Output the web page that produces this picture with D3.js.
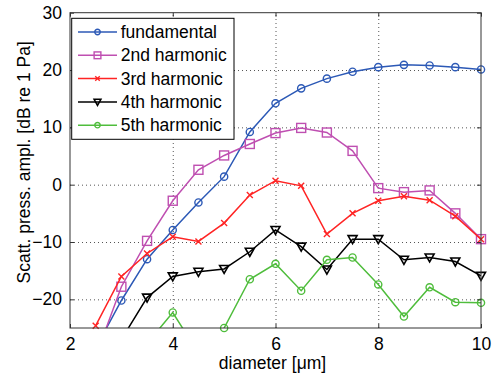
<!DOCTYPE html>
<html>
<head>
<meta charset="utf-8">
<script src="https://cdn.jsdelivr.net/npm/d3@7"></script>
<style>
  body { margin: 0; background: #fff; }
  svg { display: block; font-family: "Liberation Sans", Arial, sans-serif; }
  .grid line { stroke: #555; stroke-dasharray: 1 3; }
  .grid path { display: none; }
</style>
</head>
<body>
<svg id="chart" width="493" height="375"></svg>
<script>
// diameter [um]
const diameters = [2.5, 3, 3.5, 4, 4.5, 5, 5.5, 6, 6.5, 7, 7.5, 8, 8.5, 9, 9.5, 10];

const fundamental = [-28.5, -20.2, -13.0, -7.9, -3.1, 1.4, 9.2, 14.2, 16.8, 18.5, 19.7, 20.5, 20.9, 20.8, 20.5, 20.1];
const harmonic2 = [-30, -17.8, -9.8, -2.8, 2.6, 5.1, 7.1, 9.0, 9.9, 9.1, 5.9, -0.6, -1.3, -1.0, -5.0, -9.5];
const harmonic3 = [-24.6, -16.0, -12.0, -9.1, -9.9, -6.7, -1.8, 0.7, -0.2, -8.6, -5.0, -2.8, -2.0, -2.7, -5.5, -9.5];
const harmonic4 = [null, -27, -19.7, -16.0, -15.2, -14.7, -11.7, -7.9, -10.8, -14.8, -9.5, -9.5, -13.1, -12.7, -13.4, -15.9];
const harmonic5 = [null, null, -27.7, -22.3, -29.4, -25.0, -16.5, -13.8, -18.5, -13.1, -12.7, -17.4, -23.0, -17.9, -20.5, -20.6];

const xTicks = [2, 4, 6, 8, 10];
const yTicks = [-20, -10, 0, 10, 20, 30];

const series = [
  { name: "fundamental", values: fundamental, color: "#2c59b6", marker: "circle" },
  { name: "2nd harmonic", values: harmonic2, color: "#bf4fb1", marker: "square" },
  { name: "3rd harmonic", values: harmonic3, color: "#ff2424", marker: "cross" },
  { name: "4th harmonic", values: harmonic4, color: "#000000", marker: "triangle" },
  { name: "5th harmonic", values: harmonic5, color: "#4fbd3c", marker: "circle" }
];

const svg = d3.select("#chart");
const L = 70, R = 481, T = 12.7, B = 328;
const FS = "17.5px";

const x = d3.scaleLinear().domain([2, 10]).range([L, R]);
const y = d3.scaleLinear().domain([-25, 30]).range([B, T]);

// grid (dotted)
svg.append("g").attr("class", "grid")
  .attr("transform", `translate(0,${B})`)
  .call(d3.axisBottom(x).tickValues(xTicks.slice(1, -1)).tickSize(-(B - T)).tickFormat(""));
svg.append("g").attr("class", "grid")
  .attr("transform", `translate(${L},0)`)
  .call(d3.axisLeft(y).tickValues(yTicks.slice(0, -1)).tickSize(-(R - L)).tickFormat(""));

svg.append("defs").append("clipPath").attr("id", "clip")
  .append("rect").attr("x", L).attr("y", T).attr("width", R - L).attr("height", B - T);

// marker drawing (k = scale, legend uses smaller ones)
function drawMarker(g, type, color, k) {
  k = k || 1;
  if (type === "circle") {
    g.append("circle").attr("r", 3.6 * k).attr("fill", "none").attr("stroke", color).attr("stroke-width", 1.4);
  } else if (type === "square") {
    g.append("rect").attr("x", -4.5 * k).attr("y", -4.5 * k).attr("width", 9 * k).attr("height", 9 * k)
      .attr("fill", "none").attr("stroke", color).attr("stroke-width", 1.4);
  } else if (type === "cross") {
    const c = 3 * k;
    g.append("path").attr("d", `M${-c},${-c}L${c},${c}M${-c},${c}L${c},${-c}`).attr("stroke", color).attr("stroke-width", 1.4);
  } else if (type === "triangle") {
    g.append("path").attr("d", `M${-4.5 * k},${-3.5 * k}L${4.5 * k},${-3.5 * k}L0,${4.5 * k}Z`)
      .attr("fill", "none").attr("stroke", color).attr("stroke-width", 1.6);
  }
}

const line = d3.line()
  .defined(d => d.v !== null)
  .x(d => x(d.d))
  .y(d => y(d.v));

series.forEach(s => {
  const pts = diameters.map((d, i) => ({ d: d, v: s.values[i] }));
  svg.append("path")
    .attr("clip-path", "url(#clip)")
    .attr("d", line(pts))
    .attr("fill", "none")
    .attr("stroke", s.color)
    .attr("stroke-width", 1.5);
  pts.filter(p => p.v !== null && p.v >= -25 && p.v <= 30).forEach(p => {
    const g = svg.append("g").attr("transform", `translate(${x(p.d)},${y(p.v)})`);
    drawMarker(g, s.marker, s.color);
  });
});

// axes box + ticks
const axisColor = "#333";
function styleAxis(g) {
  g.select(".domain").remove();
  g.selectAll(".tick line").attr("stroke", axisColor);
  g.selectAll(".tick text").attr("fill", "#000").style("font-size", FS).style("font-family", "Liberation Sans, Arial, sans-serif");
}
svg.append("g").attr("transform", `translate(0,${B})`)
  .call(d3.axisBottom(x).tickValues(xTicks).tickSizeInner(-4).tickSizeOuter(0).tickPadding(10))
  .call(styleAxis);
svg.append("g").attr("transform", `translate(0,${T})`)
  .call(d3.axisTop(x).tickValues(xTicks).tickSizeInner(-4).tickSizeOuter(0).tickFormat(""))
  .call(styleAxis);
svg.append("g").attr("transform", `translate(${L},0)`)
  .call(d3.axisLeft(y).tickValues(yTicks).tickSizeInner(-4).tickSizeOuter(0).tickPadding(8))
  .call(styleAxis);
svg.append("g").attr("transform", `translate(${R},0)`)
  .call(d3.axisRight(y).tickValues(yTicks).tickSizeInner(-4).tickSizeOuter(0).tickFormat(""))
  .call(styleAxis);

svg.append("rect").attr("x", L).attr("y", T).attr("width", R - L).attr("height", B - T)
  .attr("fill", "none").attr("stroke", axisColor).attr("stroke-width", 1);

// axis labels
svg.append("text").attr("x", (L + R) / 2 - 3).attr("y", 369)
  .attr("text-anchor", "middle").style("font-size", FS)
  .text("diameter [\u03bcm]");
svg.append("text")
  .attr("transform", `translate(30,${(T + B) / 2 - 8}) rotate(-90)`)
  .attr("text-anchor", "middle").style("font-size", FS)
  .text("Scatt. press. ampl. [dB re 1 Pa]");

// legend
const lg = svg.append("g");
lg.append("rect").attr("x", 71.7).attr("y", 18.3).attr("width", 162.3).attr("height", 121)
  .attr("fill", "#fff").attr("stroke", "#000").attr("stroke-width", 1);
series.forEach((s, i) => {
  const yy = 32 + i * 23.3;
  lg.append("line").attr("x1", 78).attr("x2", 117).attr("y1", yy).attr("y2", yy)
    .attr("stroke", s.color).attr("stroke-width", 1.5);
  drawMarker(lg.append("g").attr("transform", `translate(97.5,${yy})`), s.marker, s.color, 0.75);
  lg.append("text").attr("x", 120.7).attr("y", yy).attr("dy", "0.35em")
    .style("font-size", FS).text(s.name);
});
</script>
</body>
</html>
